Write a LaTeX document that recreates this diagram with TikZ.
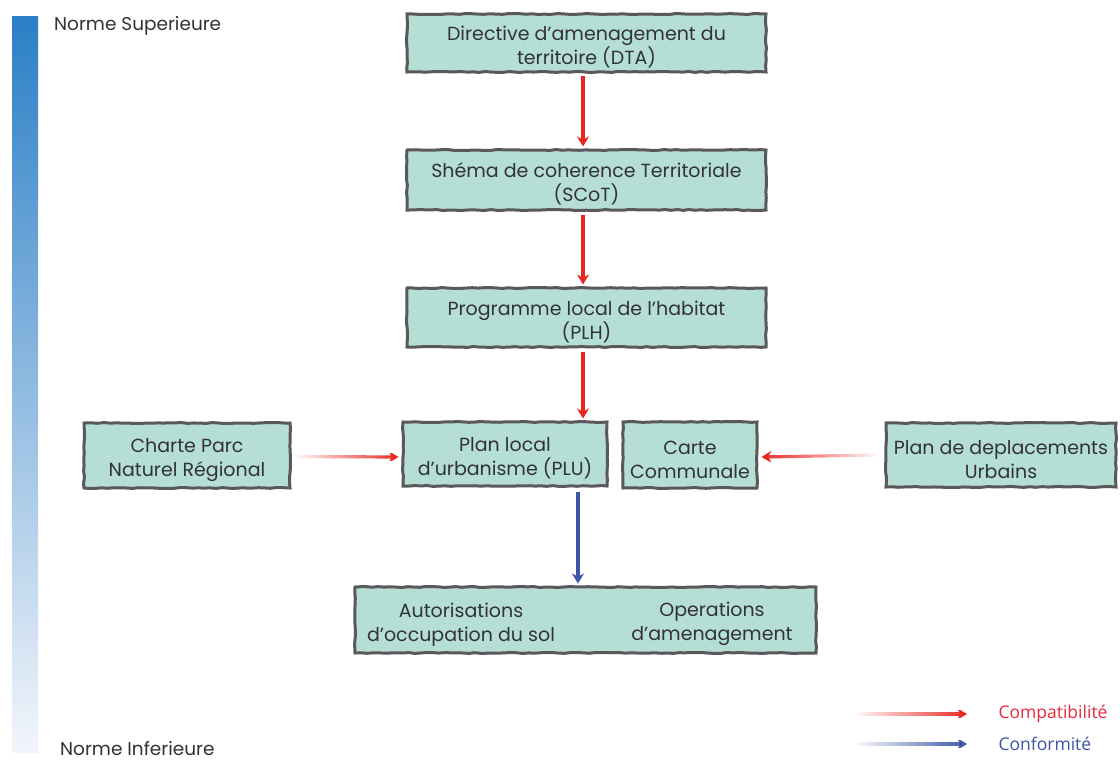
\documentclass[tikz,border=0pt]{standalone}
\usepackage{fontspec}
\setmainfont{Poppins}
\newfontfamily\legfont{Open Sans}
\usetikzlibrary{arrows.meta,decorations.pathmorphing,calc,fadings}
\definecolor{boxfill}{HTML}{B4DED6}
\definecolor{boxline}{HTML}{5A5858}
\definecolor{redarr}{HTML}{E8261F}
\definecolor{bluearr}{HTML}{3B55A8}
\definecolor{redtxt}{HTML}{E8283C}
\definecolor{bluetxt}{HTML}{3A55A4}
\definecolor{bartop}{HTML}{2B7FC6}
\definecolor{barbot}{HTML}{F2F5FB}
\definecolor{txt}{HTML}{333333}
\tikzfading[name=tailL, left color=transparent!100, middle color=transparent!0, right color=transparent!0]
\tikzfading[name=tailR, left color=transparent!0, middle color=transparent!0, right color=transparent!100]
\tikzset{
  box/.style={draw=boxline, fill=boxfill, line width=3pt, inner sep=0pt,
    text=txt, font=\fontsize{19}{24}\selectfont, align=center, text height=47pt,
    decorate, decoration={random steps, segment length=6pt, amplitude=0.5pt}},
  inner/.style={text=txt, font=\fontsize{19}{24}\selectfont, align=center, text height=47pt},
  comp/.style={draw=redarr, line width=3.2pt, -{Stealth[length=10pt,width=12pt]}},
  conf/.style={draw=bluearr, line width=3.2pt, -{Stealth[length=10pt,width=12pt]}},
  fadeL/.style={path fading=tailL},
  fadeR/.style={path fading=tailR},
  side/.style={text=txt, font=\fontsize{18.5}{20}\selectfont},
  leg/.style={font=\legfont\fontsize{17.5}{20}\selectfont, anchor=west}
}
\begin{document}
\begin{tikzpicture}[x=1pt,y=-1pt]
\useasboundingbox (0,0) rectangle (1120,760);
\fill[white] (0,0) rectangle (1120,760);
% gradient bar
\shade[top color=bartop, bottom color=barbot] (12,17) rectangle (38,752);
\node[side, anchor=base west, inner sep=0pt] (sup) at (54,31) {Norme Superieure};
\node[side, anchor=base west, inner sep=0pt] (inf) at (60,755) {Norme Inferieure};
% boxes
\node[box, minimum width=359pt, minimum height=58pt] (dta) at (586.5,43) {Directive d’amenagement du\\territoire (DTA)};
\node[box, minimum width=359pt, minimum height=60pt] (scot) at (586.5,180) {Shéma de coherence Territoriale\\(SCoT)};
\node[box, minimum width=359pt, minimum height=59pt] (plh) at (586.5,317.5) {Programme local de l’habitat\\(PLH)};
\node[box, minimum width=206pt, minimum height=65pt] (cpnr) at (187,455.5) {Charte Parc\\Naturel Régional};
\node[box, minimum width=204pt, minimum height=64pt] (plu) at (505,454) {Plan local\\d’urbanisme (PLU)};
\node[box, minimum width=134pt, minimum height=66pt] (cc) at (690,455) {Carte\\Communale};
\node[box, minimum width=230pt, minimum height=64pt] (pdu) at (1001,455) {Plan de deplacements\\Urbains};
\node[box, minimum width=461pt, minimum height=66pt] (bot) at (585.5,620) {};
\node[inner] (aos) at (461,620) {Autorisations\\d’occupation du sol};
\node[inner] (oa) at (712,620) {Operations\\d’amenagement};
% arrows
\coordinate (ax) at (583,0);
\coordinate (bx) at (578,0);
\draw[comp] ($(dta.south -| ax)+(0,3)$) -- ($(scot.north -| ax)+(0,-2)$);
\draw[comp] ($(scot.south -| ax)+(0,3)$) -- ($(plh.north -| ax)+(0,-2)$);
\draw[comp] ($(plh.south -| ax)+(0,3)$) -- ($(plu.north -| ax)+(0,-2)$);
\draw[comp, fadeL] ($(cpnr.east)+(2,1)$) -- ($(plu.west)+(-3,3)$);
\draw[comp, fadeR] ($(pdu.west)+(-6,0)$) -- ($(cc.east)+(3,2)$);
\draw[conf] ($(plu.south -| bx)+(0,4)$) -- ($(bot.north -| bx)+(0,-2)$);
% legend
\coordinate (l1) at (855,714);
\coordinate (l2) at (967,714);
\coordinate (l3) at (855,744);
\coordinate (l4) at (967,744);
\draw[comp, fadeL] (l1) -- (l2);
\draw[conf, fadeL] (l3) -- (l4);
\node[leg, text=redtxt] (lc) at (995,714) {Compatibilité};
\node[leg, text=bluetxt] (lf) at (995,744) {Conformité};
\end{tikzpicture}
\end{document}
